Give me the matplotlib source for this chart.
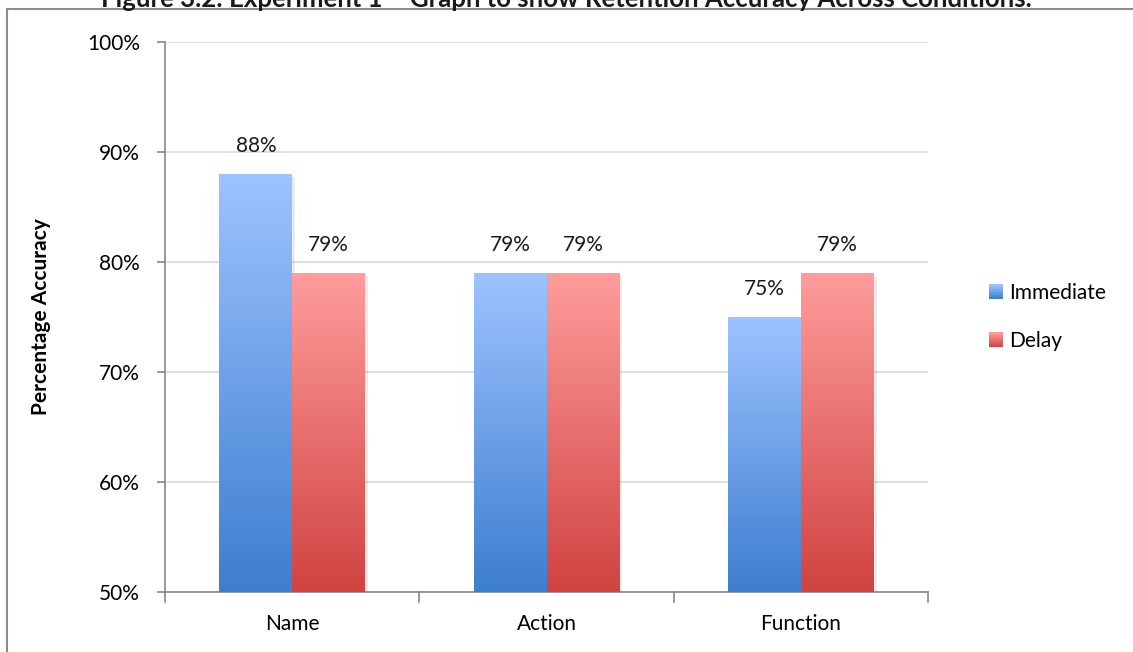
import numpy as np
import matplotlib
matplotlib.use('Agg')
import matplotlib.pyplot as plt
from matplotlib.patches import Rectangle
from matplotlib.legend_handler import HandlerBase
from matplotlib.colors import LinearSegmentedColormap
from matplotlib.lines import Line2D

plt.rcParams['font.family'] = ['Lato', 'DejaVu Sans']

# retention accuracy (%) per condition
conditions = ['Name', 'Action', 'Function']
immediate = [88, 79, 75]
delay = [79, 79, 79]
series_names = ['Immediate', 'Delay']

blue_cmap = LinearSegmentedColormap.from_list('blue', ['#3D7ECF', '#9DC3FF'])
red_cmap = LinearSegmentedColormap.from_list('red', ['#D04341', '#FF9C9C'])

fig = plt.figure(figsize=(11.33, 6.52), dpi=100)
ax = fig.add_axes([165/1133, 1 - 592/652, (928-165)/1133, 550/652])

ymin, ymax = 50, 100
x = np.arange(len(conditions))
w = 1 / 3.5
grad = np.linspace(0, 1, 256).reshape(-1, 1)
FS = 15


def gradient_bar(ax, xc, h, cmap):
    # soft shadow on the right, then the gradient body clipped to the bar
    sh = Rectangle((xc - w/2 + 0.012, ymin), w, h - ymin - 0.3,
                   facecolor='#000000', alpha=0.08, edgecolor='none', zorder=2)
    ax.add_patch(sh)
    rect = Rectangle((xc - w/2, ymin), w, h - ymin, facecolor='none',
                     edgecolor='none', zorder=3)
    ax.add_patch(rect)
    im = ax.imshow(grad, cmap=cmap, origin='lower', aspect='auto',
                   extent=(xc - w/2, xc + w/2, ymin, h), zorder=3)
    im.set_clip_path(rect)
    ax.text(xc, h + 1.6, f'{h}%', ha='center', va='bottom', fontsize=FS,
            color='#1a1a1a')


for i in range(len(conditions)):
    gradient_bar(ax, x[i] - w/2, immediate[i], blue_cmap)
    gradient_bar(ax, x[i] + w/2, delay[i], red_cmap)

ax.set_xlim(-0.5, len(conditions) - 0.5)
ax.set_ylim(ymin, ymax)
ax.set_yticks(np.arange(50, 101, 10))
ax.set_yticklabels([f'{v}%' for v in range(50, 101, 10)], fontsize=FS)
ax.yaxis.grid(True, color='#D9D9D9', linewidth=1.2, zorder=0)
ax.set_axisbelow(True)

ax.set_xticks(x)
ax.set_xticklabels(conditions, fontsize=FS)
ax.tick_params(axis='x', length=0, pad=16)
ax.tick_params(axis='y', length=6, width=1.2, color='#888888', pad=12)
# category boundary ticks under the x axis
for b in np.arange(-0.5, len(conditions), 1.0):
    ax.add_line(Line2D([b, b], [0, -0.018], transform=ax.get_xaxis_transform(),
                       color='#888888', linewidth=1.2, clip_on=False))

for s in ['top', 'right']:
    ax.spines[s].set_visible(False)
for s in ['left', 'bottom']:
    ax.spines[s].set_color('#888888')
    ax.spines[s].set_linewidth(1.2)

ax.set_ylabel('Percentage Accuracy', fontsize=FS, fontweight='bold', labelpad=26)


class GradientHandler(HandlerBase):
    def __init__(self, cmap):
        super().__init__()
        self.cmap = cmap

    def create_artists(self, legend, orig_handle, xdescent, ydescent, width,
                       height, fontsize, trans):
        n = 20
        side = height * 1.0
        x0 = -xdescent + width - side
        arts = []
        for k in range(n):
            arts.append(Rectangle((x0, -ydescent + side * k / n), side, side / n + 0.3,
                                  facecolor=self.cmap(k / (n - 1)), edgecolor='none',
                                  transform=trans))
        return arts


h1 = Rectangle((0, 0), 1, 1)
h2 = Rectangle((0, 0), 1, 1)
ax.legend([h1, h2], series_names, handler_map={h1: GradientHandler(blue_cmap),
                                               h2: GradientHandler(red_cmap)},
          loc='center left', bbox_to_anchor=(1.055, 0.5), frameon=False,
          fontsize=FS, handlelength=0.7, handletextpad=0.3, labelspacing=1.35)

# outer frame and the clipped figure caption
fig.add_artist(Line2D([7/1133, 1], [1 - 9/652, 1 - 9/652], color='#8C8C8C',
                      linewidth=1.5, transform=fig.transFigure))
fig.add_artist(Line2D([7/1133, 7/1133], [0, 1 - 9/652], color='#8C8C8C',
                      linewidth=1.5, transform=fig.transFigure))
fig.text(0.5, 1 - 7/652,
         'Figure 3.2: Experiment 1 \u2013 Graph to show Retention Accuracy Across Conditions.',
         ha='center', va='baseline', fontsize=18.5, fontweight='bold', color='#1a1a1a')

fig.savefig('out.png', dpi=100)
